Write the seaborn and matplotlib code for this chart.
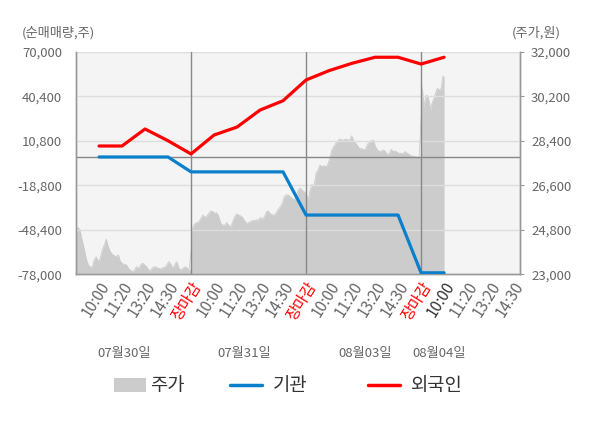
import matplotlib
matplotlib.use("Agg")
import matplotlib.pyplot as plt
import seaborn as sns
import numpy as np
import pandas as pd
from matplotlib.patches import Patch
from matplotlib.lines import Line2D
from matplotlib.ticker import FuncFormatter

# ---- data ----
days = ["07월30일", "07월31일", "08월03일", "08월04일"]
times = ["10:00", "11:20", "13:20", "14:30", "장마감"]

# net buying at each time label (10:00 of day 1 .. 10:00 of day 4)
foreign = [7300, 7300, 18600, 10800, 2000,
           14600, 19900, 31200, 37400, 51200,
           57400, 62300, 66300, 66300, 61800,
           66300]
inst = [0, 0, 0, 0, -9900,
        -9900, -9900, -9900, -9900, -38600,
        -38600, -38600, -38600, -38600, -77000,
        -77000]

# intraday price, evenly spaced over each session
price_0730 = [24590, 24900, 24790, 24390, 24060, 23650, 23380, 23310, 23270, 23580,
              23710, 23510, 23650, 23980, 24180, 24420, 24120, 23910, 23810, 23750,
              23710, 23780, 23510, 23430, 23400, 23380, 23240, 23170, 23110, 23170,
              23310, 23240, 23380, 23450, 23380, 23310, 23170, 23170, 23270, 23310,
              23270, 23240, 23210, 23270, 23270, 23380, 23510, 23400, 23240, 23400,
              23510, 23240, 23170, 23240, 23300, 23270, 23170, 23240]
price_0731 = [24500, 24920, 25060, 25090, 25130, 25260, 25400, 25300, 25360, 25470,
              25570, 25530, 25470, 25490, 25330, 25060, 24990, 24990, 25090, 24990,
              24900, 25130, 25330, 25440, 25400, 25360, 25300, 25170, 25060, 25090,
              25130, 25170, 25170, 25200, 25200, 25300, 25220, 25330, 25530, 25560,
              25440, 25400, 25400, 25490, 25630, 25730, 25870, 26140, 26210, 26210,
              26140, 26070, 26000, 26140, 26410, 26480, 26410, 26340, 26210]
price_0803 = [26340, 25960, 26410, 26640, 26540, 27080, 27220, 27420, 27350, 27390,
              27350, 27450, 27690, 28030, 28160, 28300, 28390, 28470, 28430, 28430,
              28470, 28430, 28430, 28600, 28390, 28300, 28200, 28070, 28090, 28030,
              28070, 28260, 28340, 28390, 28430, 28160, 28030, 27960, 27990, 28030,
              27960, 27850, 27890, 28050, 27960, 27990, 27930, 27890, 27890, 27890,
              27960, 27890, 27850, 27780, 27780, 27750, 27730, 27730, 27730]
price_0804 = [30720, 30480, 29750, 30050, 30250, 30180, 29980, 29640, 29910, 30050,
              30180, 30380, 30520, 30480, 30450, 30560, 30990, 30990]

# ---- layout ----
GRAY_TXT = "#666666"
BLUE = "#0a7fcb"
RED = "#ff0000"
FILL = "#cccccc"

sns.set_style("white")
plt.rcParams["font.family"] = ["Noto Sans CJK KR", "DejaVu Sans"]

fig = plt.figure(figsize=(6, 4.28), dpi=100)
ax2 = fig.add_axes([76 / 600, 1 - 274.3 / 428, 444 / 600, 222.6 / 428])
ax = ax2.twinx()
ax.yaxis.tick_left()
ax.yaxis.set_label_position("left")
ax2.yaxis.tick_right()
ax.set_zorder(ax2.get_zorder() + 1)
ax.patch.set_visible(False)
ax2.set_facecolor("#f4f4f4")

# price area (right axis)
sessions = [(price_0730, 0, 5), (price_0731, 5, 10), (price_0803, 10, 15), (price_0804, 15, 16)]
px, py = [], []
for vals, a, b in sessions:
    px.extend(np.linspace(a, b, len(vals)))
    py.extend(vals)
price_df = pd.DataFrame({"x": px, "price": py})
sns.lineplot(data=price_df, x="x", y="price", ax=ax2, color=FILL, lw=0.6)
ax2.fill_between(price_df["x"], price_df["price"], 23000, color=FILL, lw=0)

# net buying lines (left axis)
slots = np.arange(1, len(foreign) + 1)
nb = pd.DataFrame({"slot": slots, "기관": inst, "외국인": foreign})
ax.grid(False)
for y in np.linspace(-78000, 70000, 6):
    ax.axhline(y, color="#dddddd", lw=1, zorder=1)
ax.axhline(0, color="#888888", lw=1, zorder=2)
for xv in (5, 10, 15):
    ax.axvline(xv, color="#888888", lw=1, zorder=2)
sns.lineplot(data=nb, x="slot", y="기관", ax=ax, color=BLUE, lw=2.3, zorder=4)
sns.lineplot(data=nb, x="slot", y="외국인", ax=ax, color=RED, lw=2.3, zorder=5)

ax2.set_xlim(0, 19.3)
ax.set_ylim(-78000, 70000)
ax2.set_ylim(23000, 32000)
ax.set_yticks(np.linspace(-78000, 70000, 6))
ax2.set_yticks(np.linspace(23000, 32000, 6))
comma = FuncFormatter(lambda v, p: f"{int(round(v)):,}")
ax.yaxis.set_major_formatter(comma)
ax2.yaxis.set_major_formatter(comma)
for a in (ax, ax2):
    a.set_xlabel("")
    a.set_ylabel("")

# x ticks live on the base axes (the twin hides its x axis)
labels = times * 3 + times[:4]
ax2.set_xticks(np.arange(1, len(labels) + 1))
ax2.set_xticklabels(labels, rotation=58, ha="right", va="top", rotation_mode="anchor")
ax2.set_xticks([0, 5, 10, 15], minor=True)
ax2.tick_params(axis="x", which="major", length=0, pad=3, labelsize=11, labelcolor=GRAY_TXT)
ax2.tick_params(axis="x", which="minor", length=5, color="#999999", width=1)
for i, t in enumerate(ax2.get_xticklabels()):
    if t.get_text() == "장마감":
        t.set_color(RED)
    elif i == 15:
        t.set_color("#333333")
ax.tick_params(axis="y", length=0, pad=10, labelsize=9.5, labelcolor=GRAY_TXT)
ax2.tick_params(axis="y", length=3, color="#999999", pad=5, labelsize=9.5, labelcolor=GRAY_TXT)

for a in (ax, ax2):
    a.spines["top"].set_visible(False)
    for s in ("left", "bottom", "right"):
        a.spines[s].set_color("#999999")
        a.spines[s].set_linewidth(1)

# axis captions and date labels
fig.text(22 / 600, 1 - 33 / 428, "(순매매량,주)", fontsize=9.5, color=GRAY_TXT, va="center", ha="left")
fig.text(561 / 600, 1 - 33 / 428, "(주가,원)", fontsize=9.5, color=GRAY_TXT, va="center", ha="right")
for d, xc in zip(days, (2.1, 7.3, 12.55, 15.8)):
    ax2.text(xc, -0.355, d, transform=ax2.get_xaxis_transform(), ha="center", va="center",
             fontsize=9.5, color=GRAY_TXT)

# legend: one entry per slot, placed like the original
entries = [(Patch(facecolor=FILL, edgecolor="none"), "주가", 114, 0.2),
           (Line2D([0], [0], color=BLUE, lw=2.5), "기관", 230, 0.6),
           (Line2D([0], [0], color=RED, lw=2.5), "외국인", 368, 0.6)]
for h, lab, xl, tpad in entries:
    fig.legend([h], [lab], loc="center left", bbox_to_anchor=(xl / 600, 1 - 386 / 428),
               frameon=False, fontsize=13.5, handlelength=1.7, handleheight=0.8,
               handletextpad=tpad, borderpad=0, borderaxespad=0, labelcolor="#333333")

fig.savefig("out.png", dpi=100)
